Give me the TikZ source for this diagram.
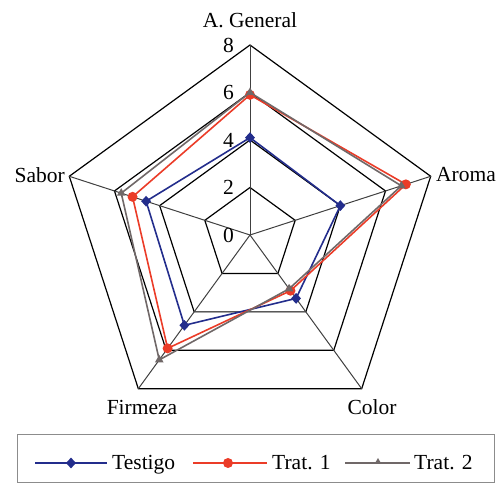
\documentclass[tikz,border=0pt]{standalone}
\usepackage{fontspec}
\setmainfont{Liberation Serif}
\usetikzlibrary{calc,shapes.geometric}
\definecolor{cT}{RGB}{35,45,140}
\definecolor{cA}{RGB}{235,60,40}
\definecolor{cB}{RGB}{112,104,104}
\begin{document}
\begin{tikzpicture}[x=1pt,y=1pt,
  gridline/.style={black,line width=1.2pt},
  spoke/.style={black!75,line width=1pt},
  lbl/.style={font=\fontsize{21.5}{23}\selectfont,inner sep=0pt},
  serT/.style={cT,line width=1.6pt},
  serA/.style={cA,line width=1.6pt},
  serB/.style={cB,line width=1.6pt},
  mkT/.style={diamond,fill=cT,inner sep=0pt,minimum width=10pt,minimum height=11pt},
  mkA/.style={circle,fill=cA,inner sep=0pt,minimum size=10pt},
  mkB/.style={regular polygon,regular polygon sides=3,fill=cB,inner sep=0pt,minimum size=10pt},
  legbox/.style={draw=black!45,line width=1pt}]
\useasboundingbox (0,0) rectangle (499,485);
\coordinate (O) at (250,250);
% grid vertices
\foreach \k/\a in {1/90,2/18,3/-54,4/-126,5/162}{
  \foreach \r in {2,4,6,8}{
    \coordinate (g\r-\k) at ($(O)+(\a:{\r*23.75})$);
  }
}
\foreach \r in {2,4,6,8}{
  \draw[gridline] (g\r-1) -- (g\r-2) -- (g\r-3) -- (g\r-4) -- (g\r-5) -- cycle;
}
\foreach \k in {1,...,5}{
  \draw[spoke] (O) -- (g8-\k);
}
% tick labels
\foreach \r in {0,2,4,6,8}{
  \node[lbl,anchor=east] (tick\r) at (234,{250+\r*23.75}) {\r};
}
% axis labels
\node[lbl] (lAG) at (250,465) {A. General};
\node[lbl,anchor=west] (lAr) at (436,310) {Aroma};
\node[lbl,anchor=east] (lSa) at (65,310) {Sabor};
\node[lbl] (lCo) at (372,78) {Color};
\node[lbl] (lFi) at (142,78) {Firmeza};
% data
\foreach \s/\v in {T/{4.1,4.0,3.3,4.7,4.6},A/{5.9,6.9,2.9,5.9,5.2},B/{6.0,6.7,2.8,6.5,5.7}}{
  \foreach \val [count=\k] in \v {
    \pgfmathsetmacro{\ang}{90-72*(\k-1)}
    \coordinate (d\s\k) at ($(O)+(\ang:{\val*23.75})$);
  }
}
\foreach \s in {T,A,B}{
  \draw[ser\s] (d\s1) -- (d\s2) -- (d\s3) -- (d\s4) -- (d\s5) -- cycle;
  \foreach \k in {1,...,5}{
    \node[mk\s] (m\s\k) at (d\s\k) {};
  }
}
% legend
\coordinate (bx1) at (17,2);
\coordinate (bx2) at (494,50);
\draw[legbox] (bx1) rectangle (bx2);
\coordinate (lT1) at (35,22); \coordinate (lT2) at (107,22);
\coordinate (lA1) at (193,22); \coordinate (lA2) at (267,22);
\coordinate (lB1) at (345,22); \coordinate (lB2) at (410,22);
\draw[serT] (lT1) -- (lT2);
\draw[serA] (lA1) -- (lA2);
\draw[serB,line width=1.2pt] (lB1) -- (lB2);
\node[mkT] (lmT) at (71,22) {};
\node[mkA] (lmA) at (228,22) {};
\node[mkB,minimum size=8pt] (lmB) at (378,23) {};
\node[lbl,anchor=base west] (ltT) at (112,15) {Testigo};
\node[lbl,anchor=base west] (ltA) at (272,15) {Trat. 1};
\node[lbl,anchor=base west] (ltB) at (414,15) {Trat. 2};
\end{tikzpicture}
\end{document}
